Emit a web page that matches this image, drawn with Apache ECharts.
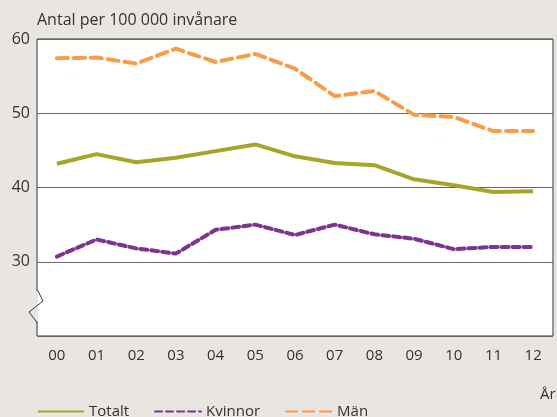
<!DOCTYPE html>
<html>
<head>
<meta charset="utf-8">
<script src="https://cdn.jsdelivr.net/npm/echarts@6/dist/echarts.min.js"></script>
<style>
  html, body { margin: 0; padding: 0; background: #e9e5e0; }
  #chart { width: 557px; height: 417px; }
</style>
</head>
<body>
<div id="chart"></div>
<script>
const years = ['00','01','02','03','04','05','06','07','08','09','10','11','12'];
const totalt = [43.2, 44.5, 43.4, 44.0, 44.9, 45.8, 44.2, 43.3, 43.0, 41.1, 40.3, 39.4, 39.5];
const kvinnor = [30.7, 33.0, 31.8, 31.1, 34.3, 35.0, 33.6, 35.0, 33.7, 33.1, 31.7, 32.0, 32.0];
const man = [57.4, 57.5, 56.7, 58.7, 56.9, 58.0, 56.0, 52.3, 53.0, 49.8, 49.5, 47.6, 47.6];

const font = '"Open Sans", sans-serif';
const textColor = '#333';

const chart = echarts.init(document.getElementById('chart'));

const option = {
  backgroundColor: '#e9e5e0',
  animation: false,
  textStyle: { fontFamily: font, color: textColor },
  title: [
    {
      text: 'Antal per 100 000 invånare',
      left: 32, top: 7,
      textStyle: { fontFamily: font, fontSize: 16, fontWeight: 'normal', color: textColor }
    },
    {
      text: 'År',
      left: 535, top: 382,
      textStyle: { fontFamily: font, fontSize: 15, fontWeight: 'normal', color: textColor }
    }
  ],
  grid: {
    left: 37, top: 39, right: 4, bottom: 81,
    show: true,
    backgroundColor: '#fff',
    borderColor: '#333',
    borderWidth: 1
  },
  legend: {
    left: 32, top: 399,
    itemWidth: 46, itemHeight: 12, itemGap: 25,
    itemStyle: { opacity: 0 },
    textStyle: { fontFamily: font, fontSize: 15, color: textColor },
    data: ['Totalt', 'Kvinnor', 'Män']
  },
  xAxis: {
    type: 'category',
    data: years,
    boundaryGap: true,
    axisLine: { show: false },
    axisTick: { show: false },
    axisLabel: { fontFamily: font, fontSize: 15, color: textColor, margin: 12 }
  },
  yAxis: {
    type: 'value',
    min: 20, max: 60, interval: 10,
    axisLine: { show: false },
    axisTick: { show: false },
    splitLine: { show: true, lineStyle: { color: '#666', width: 1 } },
    axisLabel: {
      fontFamily: font, fontSize: 16, color: textColor, margin: 7,
      formatter: v => (v === 20 ? '' : String(v))
    }
  },
  series: [
    {
      name: 'Totalt', type: 'line', data: totalt,
      symbol: 'none',
      itemStyle: { color: '#a6a52a' },
      lineStyle: { color: '#a6a52a', width: 4 }
    },
    {
      name: 'Kvinnor', type: 'line', data: kvinnor,
      symbol: 'none',
      itemStyle: { color: '#7b3590' },
      lineStyle: { color: '#7b3590', width: 4, type: [7, 4], cap: 'round' }
    },
    {
      name: 'Män', type: 'line', data: man,
      symbol: 'none',
      itemStyle: { color: '#f89c48' },
      lineStyle: { color: '#f89c48', width: 4, type: [11, 6], cap: 'round' }
    }
  ],
  graphic: [
    // break marker on the y axis
    {
      type: 'line', silent: true, z: 100,
      shape: { x1: 37, y1: 291, x2: 37, y2: 322 },
      style: { stroke: '#e9e5e0', lineWidth: 2 }
    },
    {
      type: 'rect', silent: true, z: 99,
      shape: { x: 38, y: 291, width: 6, height: 31 },
      style: { fill: '#fff' }
    },
    {
      type: 'polyline', silent: true, z: 101,
      shape: { points: [[37.5, 290], [43, 301], [29, 312], [37.5, 323]] },
      style: { stroke: '#333', lineWidth: 1, fill: null }
    }
  ]
};

chart.setOption(option);
</script>
</body>
</html>
